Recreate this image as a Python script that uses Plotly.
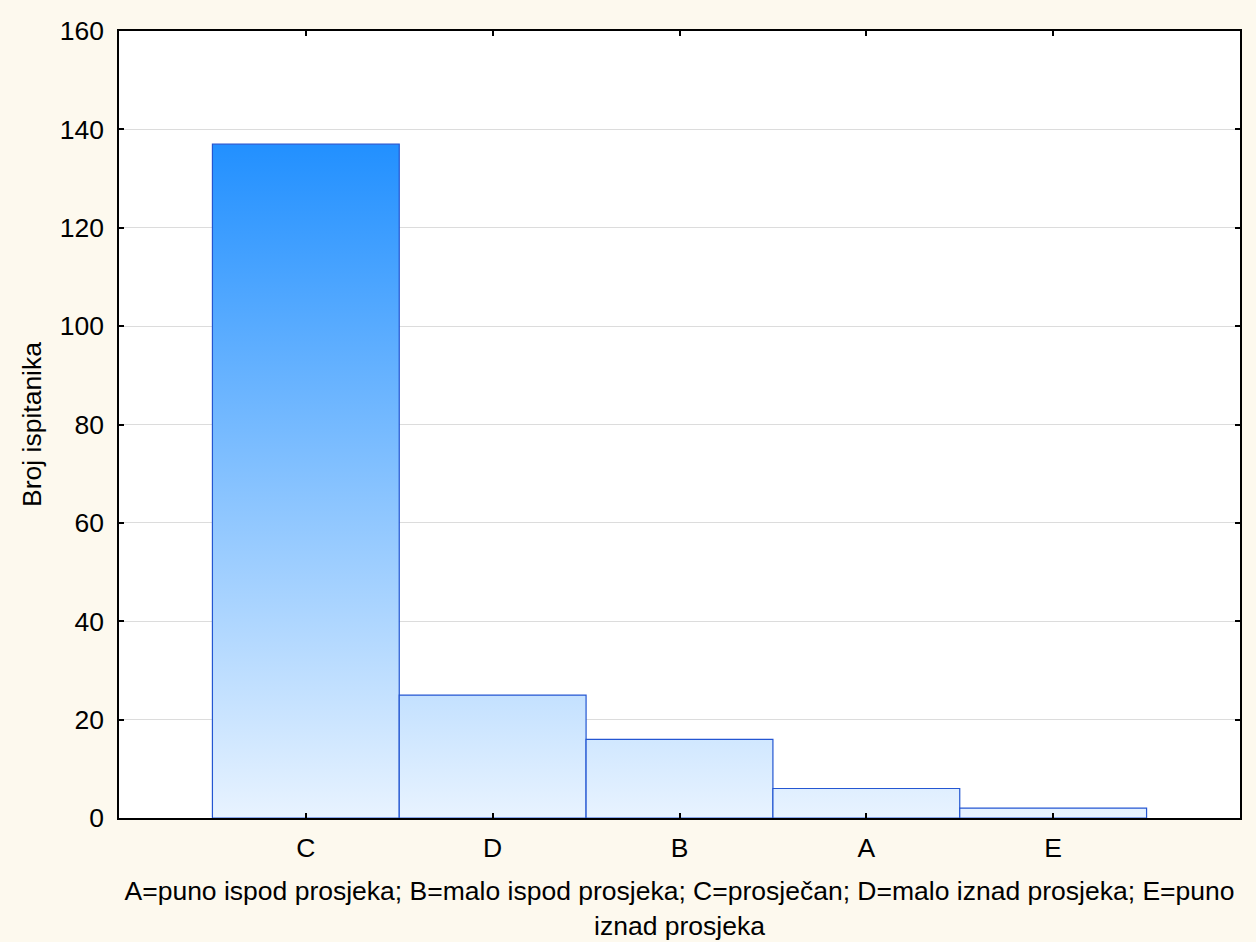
import plotly.graph_objects as go

categories = ["C", "D", "B", "A", "E"]
counts = [137, 25, 16, 6, 2]
y_ticks = [0, 20, 40, 60, 80, 100, 120, 140, 160]
x_title = "A=puno ispod prosjeka; B=malo ispod prosjeka; C=prosječan; D=malo iznad prosjeka; E=puno<br>iznad prosjeka"
y_title = "Broj ispitanika"

FONT = "Liberation Sans, Arial, sans-serif"
FS = 26.5
fig = go.Figure()

top = max(counts)
for i, (cat, v) in enumerate(zip(categories, counts)):
    xs = [i - 0.5, i - 0.5, i + 0.5, i + 0.5, i - 0.5]
    ys = [0, v, v, 0, 0]
    fig.add_trace(go.Scatter(
        x=xs, y=ys, mode="lines", fill="toself",
        line=dict(color="#2456D2", width=1.2),
        fillgradient=dict(type="vertical", start=0, stop=top,
                          colorscale=[[0, "#E8F3FF"], [1, "#2290FF"]]),
        name=cat, showlegend=False, hoverinfo="skip",
    ))

fig.update_layout(
    width=1256, height=942,
    paper_bgcolor="#FDF9EE", plot_bgcolor="white",
    margin=dict(l=119, r=16, t=31, b=124),
    font=dict(family=FONT, size=FS, color="black"),
    showlegend=False,
)
fig.update_xaxes(
    range=[-1, 5], tickvals=list(range(len(categories))), ticktext=categories,
    showgrid=False, zeroline=False, automargin=False,
    showline=True, linecolor="black", linewidth=1.5, mirror="ticks",
    ticks="inside", ticklen=5, tickcolor="black", tickwidth=1.5,
    ticklabelstandoff=5,
    title=dict(text=x_title, standoff=20, font=dict(size=FS)),
)
fig.update_yaxes(
    range=[0, 160], tickvals=y_ticks,
    showgrid=True, gridcolor="#DCDCDC", gridwidth=1, zeroline=False, automargin=False,
    showline=True, linecolor="black", linewidth=1.5, mirror="ticks",
    ticks="inside", ticklen=5, tickcolor="black", tickwidth=1.5,
    ticklabelstandoff=8,
    title=dict(text=y_title, standoff=10, font=dict(size=FS)),
)

fig.write_html(
    "out.html",
    config={"displayModeBar": False},
    post_script="document.body.style.margin='0';document.body.style.background='#FDF9EE';",
)
